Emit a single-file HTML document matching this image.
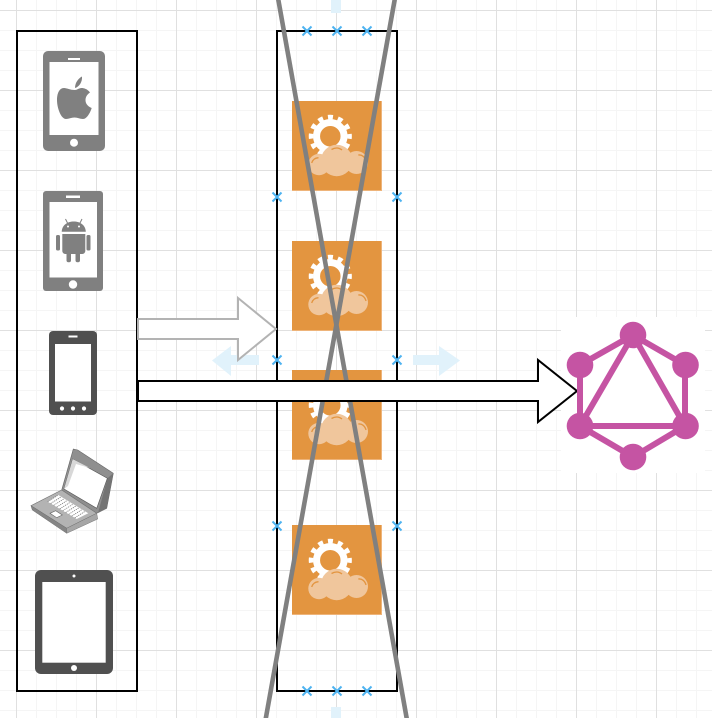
<!DOCTYPE html>
<html>
<head>
<meta charset="utf-8">
<style>
html,body{margin:0;padding:0;width:712px;height:718px;overflow:hidden;background:#fff}
#c{position:absolute;left:0;top:0;width:712px;height:718px;
background-image:
linear-gradient(to right,#e0e0e0 1px,transparent 1px),
linear-gradient(to bottom,#e0e0e0 1px,transparent 1px),
linear-gradient(to right,#f5f5f5 1px,transparent 1px),
linear-gradient(to bottom,#f5f5f5 1px,transparent 1px);
background-size:80px 80px,80px 80px,20px 20px,20px 20px;
background-position:16px 0,0 10px,16px 0,0 10px}
svg{position:absolute;left:0;top:0}
</style>
</head>
<body>
<div id="c">
<svg width="712" height="718" viewBox="0 0 712 718" xmlns="http://www.w3.org/2000/svg">
<defs>
<g id="o">
<rect x="0" y="0" width="90" height="90" fill="#e39540"/>
<rect x="0" y="89" width="90" height="1" fill="#eeb47a"/>
<rect x="89" y="0" width="1" height="90" fill="#eeb47a"/>
<circle cx="38.3" cy="35.3" r="13.75" fill="none" stroke="#fff" stroke-width="7"/>
<circle cx="38.3" cy="35.3" r="19.25" fill="none" stroke="#fff" stroke-width="4.6" stroke-dasharray="5 5.08" stroke-dashoffset="2.5"/>
<g fill="#f0c69c">
<circle cx="44.7" cy="59.5" r="15.7"/>
<circle cx="27" cy="63.5" r="10.7"/>
<circle cx="64.5" cy="61.5" r="11.5"/>
</g>
<g fill="none" stroke="#e39540" stroke-width="1.3">
<path d="M19.7,62 C20.5,59 23,57 26.5,56.7"/>
<path d="M39.5,48.5 C43,46.5 47,46.5 50,49"/>
<path d="M66.3,54 C70,53.5 73,56 74,60"/>
</g>
</g>
</defs>

<use href="#o" x="292" y="101"/>
<use href="#o" x="292" y="241"/>
<use href="#o" x="292" y="370"/>
<use href="#o" x="292" y="525"/>

<rect x="17" y="31" width="120" height="660" fill="none" stroke="#000" stroke-width="2"/>
<rect x="277" y="31" width="120" height="660" fill="none" stroke="#000" stroke-width="2"/>

<!-- hover arrows -->
<g fill="#e1f2fb">
<polygon points="212,360.5 231,346 231,355 259,355 259,365 231,365 231,376"/>
<polygon points="460,360.5 439,346 439,355 413,355 413,365 439,365 439,376"/>
<rect x="331" y="0" width="10" height="13"/>
<rect x="331" y="707" width="10" height="11"/>
</g>

<!-- blue x -->
<path fill="none" stroke="#4eb3f0" stroke-width="2" d="M302.5,26.5l9,9m0-9l-9,9M332.5,26.5l9,9m0-9l-9,9M362.5,26.5l9,9m0-9l-9,9M272.5,192.5l9,9m0-9l-9,9M392.5,192.5l9,9m0-9l-9,9M272.5,355.5l9,9m0-9l-9,9M392.5,355.5l9,9m0-9l-9,9M272.5,521.5l9,9m0-9l-9,9M392.5,521.5l9,9m0-9l-9,9M302.5,686.5l9,9m0-9l-9,9M332.5,686.5l9,9m0-9l-9,9M362.5,686.5l9,9m0-9l-9,9"/>

<!-- gray lines -->
<line x1="278" y1="-2" x2="407" y2="720" stroke="#808080" stroke-width="4.6"/>
<line x1="395" y1="-2" x2="265.5" y2="720" stroke="#808080" stroke-width="4.6"/>

<!-- arrows -->
<polygon points="138,319 238,319 238,298 276,329 238,360 238,339 138,339" fill="#fff" stroke="#b3b3b3" stroke-width="2"/>
<rect x="561" y="317" width="144" height="156" fill="#fff"/>
<polygon points="138,381 538,381 538,360 577,391 538,422 538,401 138,401" fill="#fff" stroke="#000" stroke-width="2"/>

<!-- graphql -->
<g fill="none" stroke="#c554a3" stroke-width="6">
<polygon points="633,335 685,365 685,426 633,457 580,426 580,365"/>
<polygon points="633,335 685,426 580,426"/>
</g>
<g fill="#c554a3">
<circle cx="633" cy="335" r="13.3"/>
<circle cx="580" cy="365" r="13.3"/>
<circle cx="685.5" cy="365" r="13.3"/>
<circle cx="580" cy="426" r="13.3"/>
<circle cx="685.5" cy="426" r="13.3"/>
<circle cx="633" cy="457" r="13.3"/>
</g>

<!-- apple phone -->
<rect x="43" y="51" width="62" height="100" rx="5" fill="#808080"/>
<rect x="49.5" y="62" width="49" height="73" fill="#fff"/>
<rect x="68" y="58" width="12" height="2" fill="#fff"/>
<circle cx="74" cy="142.7" r="4" fill="#fff"/>
<g fill="#808080">
<path d="M75,90 C70,90 67,88 64,88 C59,88 57,94 57,100 C57,108 61,119 66,119 C69,119 71,117.5 74.5,117.5 C78,117.5 79.5,119 83,119 C87,119 90.5,112 91.7,108 C87,106 85.5,103 85.5,100 C85.5,97 87,94.5 90,92.5 C87.5,89 84,88 81.5,88 C79,88 77,90 75,90Z"/>
<path d="M75,88 C75,82 79,78 82,76.5 C82.5,82 79,87 75,88Z"/>
</g>

<!-- android phone -->
<rect x="43" y="191" width="60" height="100" rx="3" fill="#808080"/>
<rect x="49.5" y="202" width="47.5" height="75.5" fill="#fff"/>
<rect x="66" y="195.5" width="14" height="2.5" fill="#fff"/>
<circle cx="73" cy="284.5" r="4.2" fill="#fff"/>
<g fill="#808080">
<path d="M61.7,231.7 C62,225 67.5,221.5 73.8,221.5 C80,221.5 85.5,225 85.8,231.7Z"/>
<path d="M62.3,234 H85.3 V251 a3,3 0 0 1 -3,3 H65.3 a3,3 0 0 1 -3,-3Z"/>
<rect x="56" y="235" width="4" height="15.5" rx="1.5"/>
<rect x="86.5" y="235" width="4" height="15.5" rx="1.5"/>
<rect x="66.5" y="252" width="4.5" height="10.3" rx="2"/>
<rect x="75.5" y="252" width="4.5" height="10.3" rx="2"/>
</g>
<path d="M65.5,219 L68,224 M82,219 L79.5,224" stroke="#808080" stroke-width="1" fill="none"/>
<circle cx="68" cy="226.5" r="1" fill="#fff"/>
<circle cx="79" cy="226.5" r="1" fill="#fff"/>

<!-- phone 3 -->
<rect x="49" y="331" width="48" height="84" rx="4" fill="#505050"/>
<rect x="55" y="344" width="36" height="57.5" fill="#fff"/>
<rect x="68.5" y="335.5" width="9" height="2" fill="#fff"/>
<circle cx="62" cy="408.5" r="2.1" fill="#fff"/>
<circle cx="73" cy="408.5" r="2.1" fill="#fff"/>
<circle cx="84" cy="408.5" r="2.1" fill="#fff"/>

<!-- laptop -->
<polygon points="73.3,449 77.7,450 113.3,473.3 106.7,508.3 96.7,513.3 61.7,490" fill="#8f8f8f" stroke="#666" stroke-width=".6"/>
<polygon points="113.3,473.3 106.7,508.3 98,513 107.5,478.3" fill="#747474"/>
<polygon points="72.7,459 107.3,478.3 96.7,508.3 64,489" fill="#fff" stroke="#555" stroke-width=".6"/>
<polygon points="72.7,459 90,468 76,464 68,486 64,489" fill="#d8d8d8"/>
<polygon points="31,505.7 61.7,490 96.7,513.3 66.7,528.3" fill="#b3b3b3" stroke="#777" stroke-width=".6"/>
<polygon points="31,505.7 66.7,528.3 66.7,533.3 32.3,510" fill="#858585" stroke="#707070" stroke-width=".5"/>
<polygon points="66.7,528.3 96.7,513.3 97.7,519 66.7,533.3" fill="#a6a6a6" stroke="#777" stroke-width=".5"/>
<polygon points="47.7,501.7 58.3,495 88.3,513.3 76.7,519" fill="#fff"/>
<g stroke="#777" stroke-width=".8" fill="none" stroke-dasharray="1.2 .9">
<path d="M47.7,501.7 L58.3,495 M50.7,503.5 L61.3,496.8 M53.7,505.3 L64.3,498.6 M56.7,507.1 L67.3,500.4 M59.7,508.9 L70.3,502.2 M62.7,510.7 L73.3,504 M65.7,512.5 L76.3,505.8 M68.7,514.3 L79.3,507.6 M71.7,516.1 L82.3,509.4 M74.7,517.9 L85.3,511.2"/>
</g>
<polygon points="50,513.3 55.7,510.7 62.3,515 56.7,517.7" fill="#fff" stroke="#666" stroke-width=".6"/>

<!-- tablet -->
<rect x="35" y="570" width="78" height="104" rx="6" fill="#505050"/>
<rect x="42.3" y="582" width="63.4" height="80.7" fill="#fff"/>
<circle cx="74" cy="576" r="1.5" fill="#fff"/>
<circle cx="74" cy="668" r="3" fill="#fff"/>
</svg>
</div>
</body>
</html>
